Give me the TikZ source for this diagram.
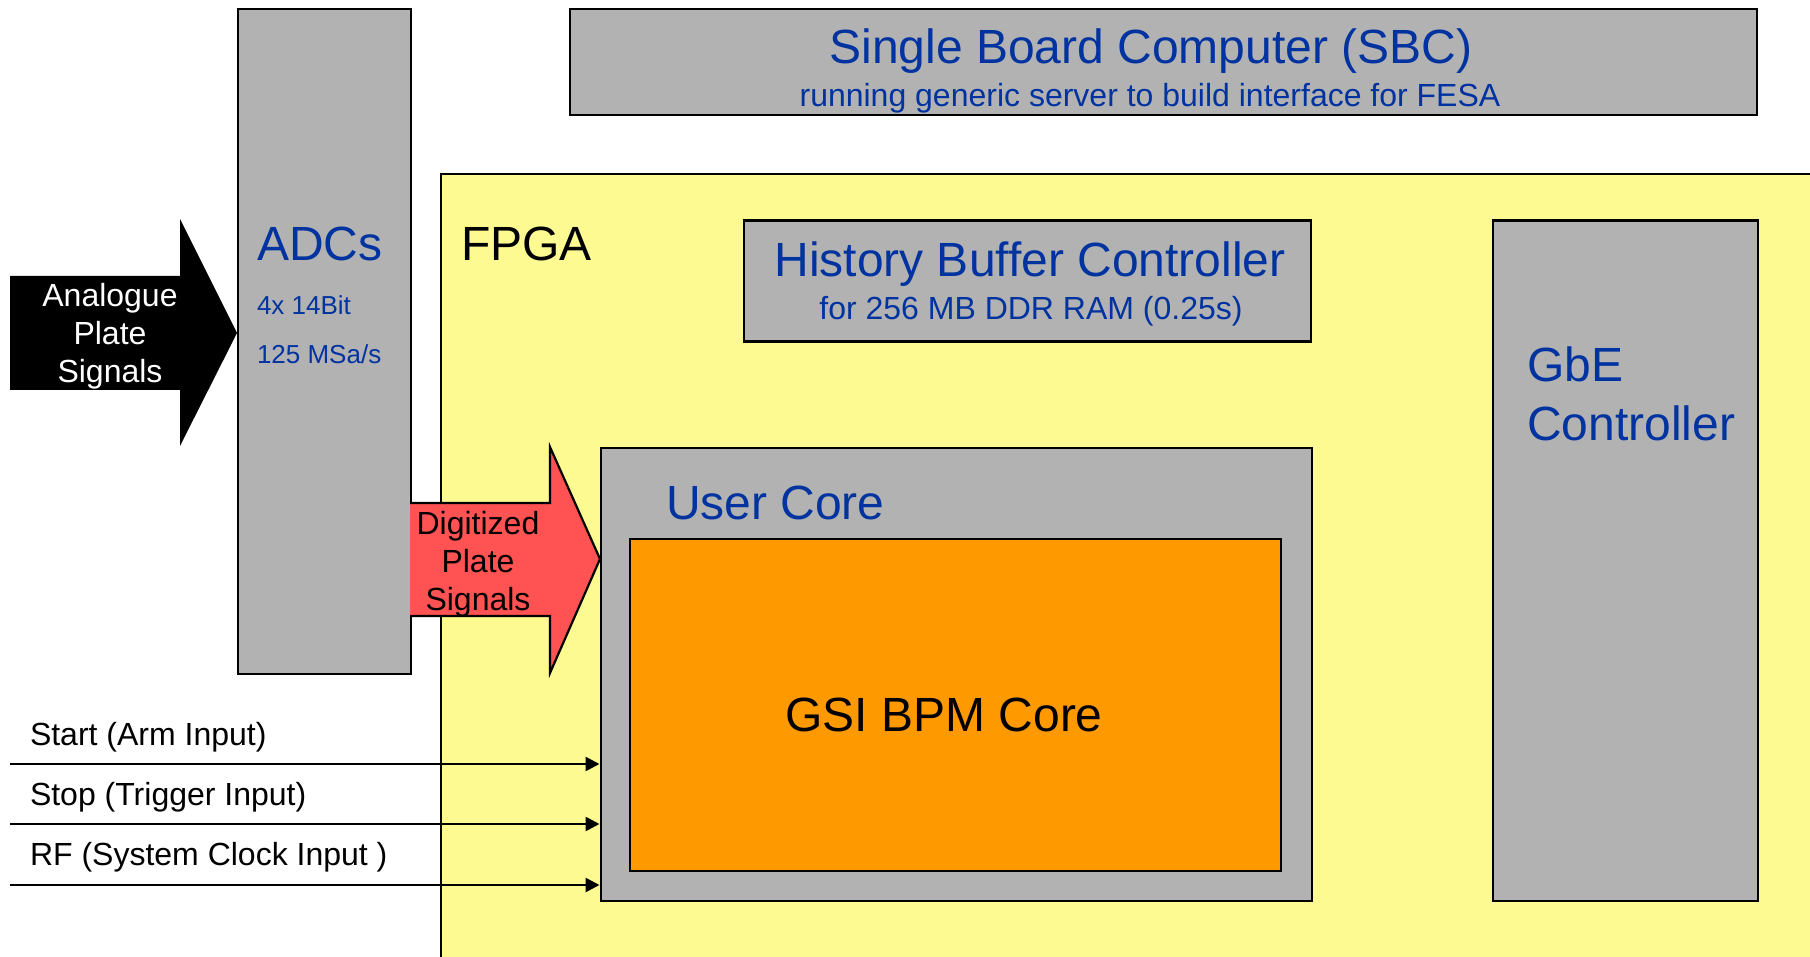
\documentclass[tikz,border=0pt]{standalone}
\usepackage{fontspec}
\setmainfont{Liberation Sans}
\usetikzlibrary{arrows.meta}
\definecolor{boxgray}{RGB}{178,178,178}
\definecolor{fpgayellow}{RGB}{253,250,145}
\definecolor{txtblue}{RGB}{0,51,160}
\definecolor{coreorange}{RGB}{255,153,0}
\definecolor{sigred}{RGB}{255,82,82}
\newcommand{\fbig}{\fontsize{48}{57}\selectfont}
\newcommand{\fmid}{\fontsize{32}{38}\selectfont}
\newcommand{\fsmall}{\fontsize{26}{31}\selectfont}
\tikzset{
  graybox/.style={draw=black, line width=2.4pt, fill=boxgray, inner sep=0pt, anchor=north west},
  lbl/.style={inner sep=0pt, outer sep=0pt},
  inputline/.style={line width=2.6pt, -{Triangle[length=14pt,width=14pt]}},
}
\begin{document}
\begin{tikzpicture}[x=1pt,y=-1pt]
\useasboundingbox (0,0) rectangle (1810,957);
% FPGA area
\fill[fpgayellow] (441,174) rectangle (1815,962);
\draw[line width=2.4pt] (441,962) -- (441,174) -- (1815,174);
% SBC
\node[graybox, minimum width=1187pt, minimum height=106pt] (sbc) at (569,8) {};
\node[lbl, anchor=base, text=txtblue, font=\fbig] (sbct) at (1151,64) {Single Board Computer (SBC)};
\node[lbl, anchor=base, text=txtblue, font=\fmid] (sbcs) at (1150,107) {running generic server to build interface for FESA};
% ADCs
\node[graybox, minimum width=173pt, minimum height=665pt] (adc) at (237,8) {};
\node[lbl, anchor=base west, text=txtblue, font=\fbig] (adct) at (257,261) {ADCs};
\node[lbl, anchor=base west, text=txtblue, font=\fsmall] (adc1) at (257,315) {4x 14Bit};
\node[lbl, anchor=base west, text=txtblue, font=\fsmall] (adc2) at (257,364) {125 MSa/s};
% FPGA label
\node[lbl, anchor=base west, font=\fbig] (fpgat) at (461,261) {FPGA};
% Analogue arrow
\fill[black] (10,276) -- (180,276) -- (180,219) -- (237,333) -- (180,446) -- (180,390) -- (10,390) -- cycle;
\node[lbl, anchor=base, text=white, font=\fmid] (ana) at (110,307)
  {\begin{tabular}[t]{@{}c@{}}Analogue\\Plate\\Signals\end{tabular}};
% History buffer
\node[graybox, minimum width=567pt, minimum height=121pt] (hist) at (742.5,219.5) {};
\node[lbl, anchor=base, text=txtblue, font=\fbig] (histt) at (1030,277) {History Buffer Controller};
\node[lbl, anchor=base, text=txtblue, font=\fmid] (hists) at (1031,320) {for 256 MB DDR RAM (0.25s)};
% GbE
\node[graybox, minimum width=265pt, minimum height=680pt] (gbe) at (1491.5,219.5) {};
\node[lbl, anchor=base west, text=txtblue, font=\fbig] (gbet1) at (1527,382) {GbE};
\node[lbl, anchor=base west, text=txtblue, font=\fbig] (gbet2) at (1527,440) {Controller};
% User core
\node[graybox, minimum width=711pt, minimum height=452.5pt] (ucore) at (599.5,447) {};
\node[lbl, anchor=base west, text=txtblue, font=\fbig] (ucoret) at (666,519) {User Core};
\node[draw=black, line width=2.4pt, fill=coreorange, inner sep=0pt, anchor=north west,
      minimum width=651pt, minimum height=332pt] (bpm) at (629,538) {};
\node[lbl, anchor=base, font=\fbig] (bpmt) at (944,731) {GSI BPM Core};
% Digitized arrow
\filldraw[fill=sigred, draw=black, line width=2.2pt, line join=miter]
  (410,503) -- (550,503) -- (550,447) -- (600,559) -- (550,673) -- (550,616) -- (410,616);
\node[lbl, anchor=base, font=\fmid] (dig) at (478,534)
  {\begin{tabular}[t]{@{}c@{}}Digitized\\Plate\\Signals\end{tabular}};
% Inputs
\coordinate (in1) at (10,764);
\coordinate (in2) at (10,824);
\coordinate (in3) at (10,885);
\draw[inputline] (in1) -- (in1 -| ucore.west);
\draw[inputline] (in2) -- (in2 -| ucore.west);
\draw[inputline] (in3) -- (in3 -| ucore.west);
\node[lbl, anchor=base west, font=\fmid] (l1) at (30,745) {Start (Arm Input)};
\node[lbl, anchor=base west, font=\fmid] (l2) at (30,805) {Stop (Trigger Input)};
\node[lbl, anchor=base west, font=\fmid] (l3) at (30,865) {RF (System Clock Input )};
\end{tikzpicture}
\end{document}
